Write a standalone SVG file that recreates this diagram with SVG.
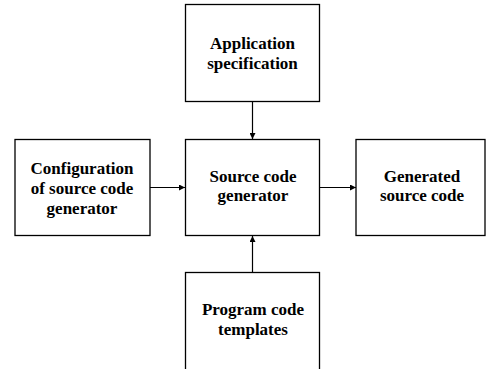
<svg xmlns="http://www.w3.org/2000/svg" width="486" height="369" viewBox="0 0 486 369">
<defs>
<style>
.box{fill:#fff;stroke:#000;stroke-width:1.3}
.lbl{font-family:'Liberation Serif',serif;font-weight:700;font-size:17px;fill:#000;text-anchor:middle}
.con{stroke:#000;stroke-width:1.2;fill:none}
</style>
<marker id="ah" viewBox="0 0 10 10" refX="10" refY="5" markerUnits="userSpaceOnUse" markerWidth="6" markerHeight="6" orient="auto">
<path d="M0,0 L10,5 L0,10 z" fill="#000"/>
</marker>
</defs>
<rect width="486" height="369" fill="#fff"/>
<g id="connectors">
<line class="con" x1="252.5" y1="101.5" x2="252.5" y2="139" marker-end="url(#ah)"/>
<line class="con" x1="150" y1="187.5" x2="185" y2="187.5" marker-end="url(#ah)"/>
<line class="con" x1="319.5" y1="187.5" x2="356" y2="187.5" marker-end="url(#ah)"/>
<line class="con" x1="252.5" y1="272.5" x2="252.5" y2="236" marker-end="url(#ah)"/>
</g>
<g id="app-spec">
<rect class="box" x="185.5" y="4.5" width="134" height="97"/>
<text class="lbl" x="252.5" y="49">Application</text>
<text class="lbl" x="252.5" y="68.5">specification</text>
</g>
<g id="config">
<rect class="box" x="15" y="139.5" width="135" height="96"/>
<text class="lbl" x="82" y="173.5">Configuration</text>
<text class="lbl" x="82" y="193.5">of source code</text>
<text class="lbl" x="82" y="213.5">generator</text>
</g>
<g id="generator">
<rect class="box" x="185.5" y="139.5" width="134" height="96"/>
<text class="lbl" x="253" y="181.5">Source code</text>
<text class="lbl" x="253" y="201">generator</text>
</g>
<g id="generated">
<rect class="box" x="356" y="139.5" width="129" height="96"/>
<text class="lbl" x="422" y="181.5">Generated</text>
<text class="lbl" x="422" y="201">source code</text>
</g>
<g id="templates">
<rect class="box" x="185.5" y="272.5" width="134" height="110"/>
<text class="lbl" x="253" y="315">Program code</text>
<text class="lbl" x="253" y="335">templates</text>
</g>
</svg>
